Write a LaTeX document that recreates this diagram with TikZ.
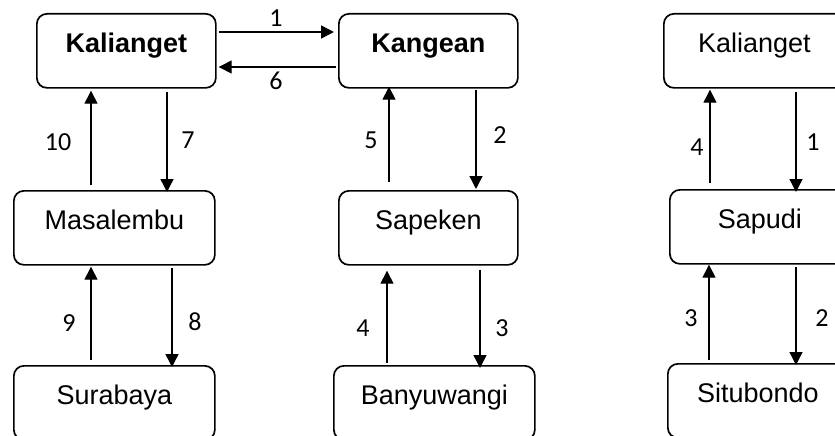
\documentclass[tikz,border=0pt]{standalone}
\usepackage{fontspec}
\setmainfont{Liberation Sans}
\newfontfamily\numfont{Carlito}
\usetikzlibrary{arrows.meta}
\begin{document}
\begin{tikzpicture}[x=1pt,y=-1pt,
  box/.style={draw, line width=1.7pt, rounded corners=10pt, inner xsep=0pt, inner ysep=0pt,
    text height=39pt, text depth=35pt, anchor=north west, font=\fontsize{27}{30}\selectfont},
  arr/.style={line width=1.4pt, -{Triangle[length=13pt,width=13pt]}},
  num/.style={font=\numfont\fontsize{26}{28}\selectfont, inner sep=0pt}]
\useasboundingbox (0,0) rectangle (835,436);
\clip (0,0) rectangle (835,436);
% left group
\node[box, minimum width=179pt, font=\bfseries\fontsize{27}{30}\selectfont] (ka) at (36,13) {Kalianget};
\node[box, minimum width=201pt] (ma) at (13,190) {Masalembu};
\node[box, minimum width=201pt] (su) at (13,365) {Surabaya};
% middle group
\node[box, minimum width=179pt, font=\bfseries\fontsize{27}{30}\selectfont] (kg) at (338,13) {Kangean};
\node[box, minimum width=179pt] (sp) at (338,190) {Sapeken};
\node[box, minimum width=201pt] (ba) at (333,365) {Banyuwangi};
% right group
\node[box, minimum width=181pt] (kr) at (663,13) {Kalianget};
\node[box, minimum width=180pt] (sa) at (669,189) {Sapudi};
\node[box, minimum width=180pt] (si) at (667,363) {Situbondo};
% horizontal arrows
\draw[arr, shorten <=2pt, shorten >=4pt] (ka.east |- 0,32) -- (kg.west |- 0,32);
\draw[arr, shorten <=2pt, shorten >=2pt] (kg.west |- 0,67) -- (ka.east |- 0,67);
% left verticals
\draw[arr, shorten <=5pt, shorten >=2pt] (ma.north -| 91,0) -- (ka.south -| 91,0);
\draw[arr, shorten <=3pt, shorten >=-2pt] (ka.south -| 167,0) -- (ma.north -| 167,0);
\draw[arr, shorten <=5pt, shorten >=1pt] (su.north -| 91,0) -- (ma.south -| 91,0);
\draw[arr, shorten <=2pt, shorten >=-2pt] (ma.south -| 172,0) -- (su.north -| 172,0);
% middle verticals
\draw[arr, shorten <=8pt, shorten >=-2pt] (sp.north -| 389,0) -- (kg.south -| 389,0);
\draw[arr, shorten <=1pt, shorten >=1pt] (kg.south -| 476,0) -- (sp.north -| 476,0);
\draw[arr, shorten <=2pt, shorten >=5pt] (ba.north -| 387,0) -- (sp.south -| 387,0);
\draw[arr, shorten <=4pt, shorten >=-3pt] (sp.south -| 480,0) -- (ba.north -| 480,0);
% right verticals
\draw[arr, shorten <=6pt, shorten >=1pt] (sa.north -| 710,0) -- (kr.south -| 710,0);
\draw[arr, shorten <=3pt, shorten >=-3pt] (kr.south -| 796,0) -- (sa.north -| 796,0);
\draw[arr, shorten <=3pt, shorten >=0pt] (si.north -| 709,0) -- (sa.south -| 709,0);
\draw[arr, shorten <=2pt, shorten >=-2pt] (sa.south -| 796,0) -- (si.north -| 796,0);
% labels
\node[num] (n1) at (276,18) {1};
\node[num] (n6) at (276,81) {6};
\node[num] (n10) at (58,142) {10};
\node[num] (n7) at (188,140) {7};
\node[num] (n9) at (69,323) {9};
\node[num] (n8) at (195,322) {8};
\node[num] (n5) at (371,140) {5};
\node[num] (n2) at (500,135) {2};
\node[num] (n4) at (363,328) {4};
\node[num] (n3) at (502,328) {3};
\node[num] (r4) at (697,147) {4};
\node[num] (r1) at (813,142) {1};
\node[num] (r3) at (691,318) {3};
\node[num] (r2) at (822,318) {2};
\end{tikzpicture}
\end{document}
